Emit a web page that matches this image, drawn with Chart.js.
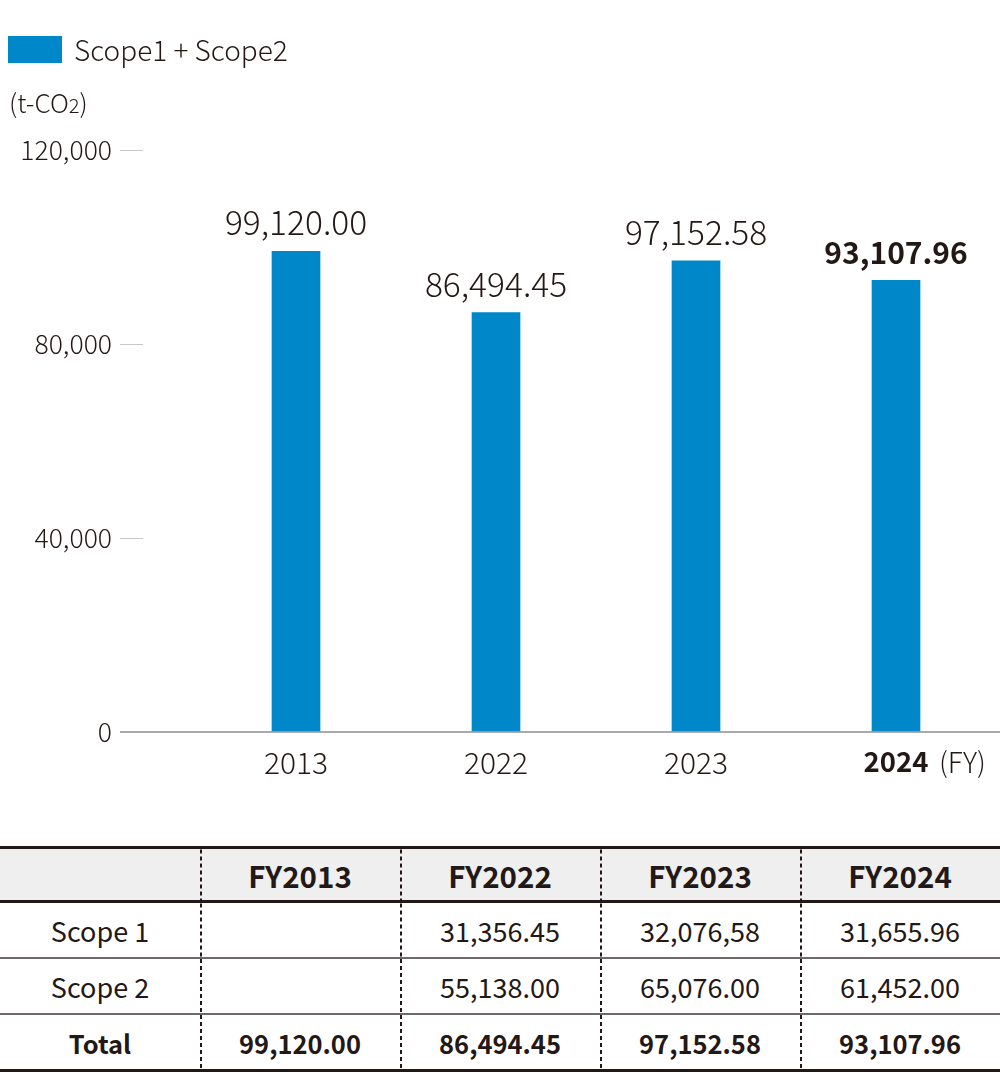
<!DOCTYPE html>
<html><head><meta charset="utf-8">
<script src="https://cdn.jsdelivr.net/npm/chart.js@4.4.1/dist/chart.umd.min.js"></script>
<style>
body{margin:0;background:#fff;font-family:"Noto Sans CJK JP","Noto Sans",sans-serif;color:#231815;}
#wrap{position:relative;width:1000px;height:1072px;overflow:hidden;}
#chartBox{position:absolute;left:0;top:0;width:1000px;height:800px;}
#legend{position:absolute;left:8px;top:29px;display:flex;align-items:center;font-size:28px;line-height:40px;font-weight:300;}
#legend .box{width:54px;height:27px;margin-right:12px;}
#unit{position:absolute;left:9px;top:84px;font-size:26px;line-height:36px;font-weight:300;}
#unit sub{font-size:20px;vertical-align:baseline;}
table{position:absolute;left:0;top:846px;width:1000px;border-collapse:collapse;table-layout:fixed;font-size:27px;font-weight:400;}
td,th{text-align:center;padding:0;
  background-image:linear-gradient(to bottom,#231815 0,#231815 60%,rgba(0,0,0,0) 60%);
  background-size:1.5px 7px;background-repeat:repeat-y;background-position:left top;}
td:first-child,th:first-child{background-image:none;}
thead tr{background:#efefef;}
th{height:51px;font-weight:bold;font-size:29.5px;border-top:3px solid #231815;border-bottom:3px solid #231815;}
tbody td{height:54px;border-bottom:2px solid #6f6a69;}
tbody tr.total td{font-weight:bold;font-size:25.5px;border-bottom:3px solid #231815;height:54px;}
</style>
</head><body>
<div id="wrap">
  <div id="chartBox"><canvas id="c"></canvas></div>
  <div id="legend"><span class="box" id="lbox"></span><span id="ltext"></span></div>
  <div id="unit">(t-CO<sub>2</sub>)</div>
  <table id="tbl"><thead><tr id="thead"></tr></thead><tbody id="tbody"></tbody></table>
</div>
<script>
// ---- data ----
const categories = ['2013', '2022', '2023', '2024'];
const totals = [99120.00, 86494.45, 97152.58, 93107.96];
const seriesLabel = 'Scope1 + Scope2';
const yTicks = [0, 40000, 80000, 120000];
const tableHeaders = ['', 'FY2013', 'FY2022', 'FY2023', 'FY2024'];
const scope1 = ['', '31,356.45', '32,076,58', '31,655.96'];
const scope2 = ['', '55,138.00', '65,076.00', '61,452.00'];
const totalRow = ['99,120.00', '86,494.45', '97,152.58', '93,107.96'];
const rowLabels = ['Scope 1', 'Scope 2', 'Total'];

const barColor = '#0087C9';
const textColor = '#231815';
const FONT = '"Noto Sans CJK JP","Noto Sans",sans-serif';

document.getElementById('lbox').style.background = barColor;
document.getElementById('ltext').textContent = seriesLabel;

// table
const thead = document.getElementById('thead');
tableHeaders.forEach(h => { const th = document.createElement('th'); th.textContent = h; thead.appendChild(th); });
const tbody = document.getElementById('tbody');
[[rowLabels[0], ...scope1], [rowLabels[1], ...scope2], [rowLabels[2], ...totalRow]].forEach((r, ri) => {
  const tr = document.createElement('tr');
  if (ri === 2) tr.className = 'total';
  r.forEach(v => { const td = document.createElement('td'); td.textContent = v; tr.appendChild(td); });
  tbody.appendChild(tr);
});

const fmt = v => v.toLocaleString('en-US', {minimumFractionDigits: 2, maximumFractionDigits: 2});

const labelPlugin = {
  id: 'valueLabels',
  afterDatasetsDraw(chart) {
    const ctx = chart.ctx;
    const meta = chart.getDatasetMeta(0);
    ctx.save();
    ctx.fillStyle = textColor;
    ctx.textAlign = 'center';
    ctx.textBaseline = 'alphabetic';
    meta.data.forEach((el, i) => {
      const last = i === totals.length - 1;
      ctx.font = (last ? 'bold 30px ' : '300 33.5px ') + FONT;
      ctx.fillText(fmt(totals[i]), el.x, el.y - 16);
    });
    // (FY) suffix
    const xs = chart.scales.x;
    ctx.font = '300 28px ' + FONT;
    ctx.textAlign = 'left';
    ctx.textBaseline = 'middle';
    ctx.fillText('(FY)', xs.getPixelForValue(categories.length - 1) + 43, 762);
    ctx.restore();
  }
};

new Chart(document.getElementById('c'), {
  type: 'bar',
  data: {
    datasets: [{
      label: seriesLabel,
      data: categories.map((c, i) => ({x: i, y: totals[i]})),
      backgroundColor: barColor,
      barThickness: 48
    }]
  },
  options: {
    responsive: true,
    maintainAspectRatio: false,
    animation: false,
    layout: {padding: {top: 150, left: 0, right: 0, bottom: 0}},
    plugins: {legend: {display: false}, tooltip: {enabled: false}},
    scales: {
      x: {
        type: 'linear',
        offset: false,
        min: -0.765,
        max: 3.52,
        afterBuildTicks: s => { s.ticks = categories.map((c, i) => ({value: i})); },
        afterFit: s => { s.height = 68; },
        grid: {display: true, offset: false, drawOnChartArea: false, drawTicks: false, color: 'rgba(0,0,0,0)'},
        border: {display: true, color: '#a9a9a9', width: 2},
        ticks: {
          autoSkip: false,
          maxRotation: 0,
          padding: 13,
          color: textColor,
          callback: v => categories[v],
          font: ctx => ctx.index === categories.length - 1
            ? {family: FONT, size: 27.5, weight: 'bold'}
            : {family: FONT, size: 30, weight: '300'}
        }
      },
      y: {
        min: 0,
        max: 120000,
        afterBuildTicks: s => { s.ticks = yTicks.map(v => ({value: v})); },
        afterFit: s => { s.width = 143; },
        grid: {
          drawOnChartArea: false,
          drawTicks: true,
          tickLength: 23,
          color: ctx => ctx.tick && ctx.tick.value === 0 ? '#a9a9a9' : '#c8c8c8',
          lineWidth: ctx => ctx.tick && ctx.tick.value === 0 ? 2 : 1
        },
        border: {display: false},
        ticks: {
          padding: 8,
          color: textColor,
          font: {family: FONT, size: 26.5, weight: '300'},
          callback: v => v.toLocaleString('en-US')
        }
      }
    }
  },
  plugins: [labelPlugin]
});
</script>
</body></html>
